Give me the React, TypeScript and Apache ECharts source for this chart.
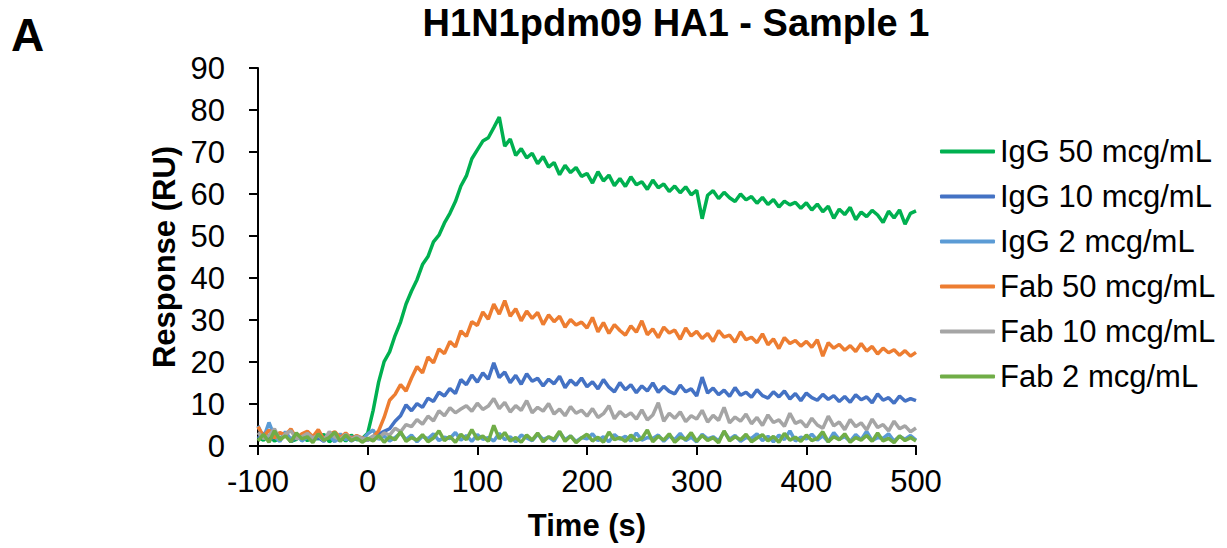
import React, { useEffect, useRef } from "react";
import * as echarts from "echarts";

const TIMES: number[] = [
  -100, -95, -90, -85, -80, -75, -70, -65, -60, -55,
  -50, -45, -40, -35, -30, -25, -20, -15, -10, -5,
  0, 5, 10, 15, 20, 25, 30, 35, 40, 45,
  50, 55, 60, 65, 70, 75, 80, 85, 90, 95,
  100, 105, 110, 115, 120, 125, 130, 135, 140, 145,
  150, 155, 160, 165, 170, 175, 180, 185, 190, 195,
  200, 205, 210, 215, 220, 225, 230, 235, 240, 245,
  250, 255, 260, 265, 270, 275, 280, 285, 290, 295,
  300, 305, 310, 315, 320, 325, 330, 335, 340, 345,
  350, 355, 360, 365, 370, 375, 380, 385, 390, 395,
  400, 405, 410, 415, 420, 425, 430, 435, 440, 445,
  450, 455, 460, 465, 470, 475, 480, 485, 490, 495,
  500,
];

const IGG_50: number[] = [
  2.1, 1.4, 2.6, 1.2, 1.8, 2.9, 1.1, 1.6, 2.4, 1.3,
  2.0, 1.7, 2.8, 1.0, 1.9, 2.3, 1.2, 2.6, 1.5, 1.8,
  3.0, 8.5, 15.2, 20.1, 22.4, 26.3, 29.5, 33.8, 36.9, 39.6,
  43.2, 45.1, 48.6, 50.2, 53.1, 55.4, 58.2, 61.9, 64.3, 68.4,
  70.5, 72.6, 73.4, 75.8, 78.3, 71.4, 73.1, 69.2, 70.8, 68.6,
  69.7, 67.2, 68.9, 66.4, 67.5, 64.6, 66.8, 65.1, 66.3, 64.2,
  64.9, 62.6, 65.3, 63.1, 64.5, 62.0, 63.7, 61.8, 64.1, 62.2,
  62.9, 61.1, 63.3, 61.5, 62.4, 60.6, 61.9, 60.3, 61.7, 59.8,
  60.9, 54.1, 59.7, 60.8, 58.9, 60.4, 59.1, 58.2, 60.0, 58.6,
  59.4, 57.8, 59.2, 57.5, 58.7, 56.9, 58.3, 57.4, 58.0, 56.6,
  57.9, 56.2, 57.6, 55.8, 57.1, 54.2, 56.4, 55.1, 56.8, 53.9,
  55.7, 54.6, 56.1, 55.0, 53.2, 55.9, 54.3, 56.2, 52.8, 55.4,
  56.0,
];

const IGG_10: number[] = [
  1.8, 3.1, 1.2, 2.4, 1.5, 2.9, 1.0, 2.2, 1.6, 3.3,
  1.4, 2.0, 1.1, 2.7, 1.7, 1.3, 2.5, 1.2, 1.9, 1.6,
  1.4, 2.1, 2.8, 3.5, 4.1, 5.9, 7.2, 9.8, 8.4, 10.1,
  9.2, 11.4, 10.6, 12.8, 11.9, 13.7, 12.5, 15.8, 14.6, 16.9,
  15.2, 17.4, 15.9, 19.8, 16.3, 17.6, 15.1, 16.8, 14.7, 17.2,
  15.4, 16.1, 14.3, 15.9, 14.8, 16.6, 13.9, 15.7, 14.5, 16.2,
  14.1, 15.3, 13.6, 15.8, 14.0, 12.9, 15.1, 13.4, 14.6, 12.7,
  14.3, 13.1, 15.0, 12.8, 14.2, 13.0, 12.4, 14.5, 12.9, 13.6,
  11.9, 16.4, 12.6, 13.8, 12.2, 13.3, 11.8, 13.9, 12.1, 12.8,
  11.6, 13.4, 12.0, 11.4, 12.9, 11.7, 13.1, 11.2, 12.5, 10.8,
  12.6, 11.5, 10.9, 12.3, 11.1, 12.0, 10.6, 11.8, 10.4, 12.2,
  11.0, 11.7, 10.3, 12.4, 10.9, 11.5, 10.2, 11.9, 10.7, 11.3,
  10.8,
];

const IGG_2: number[] = [
  4.8, 1.9, 5.6, 2.3, 1.1, 3.4, 1.6, 2.8, 1.2, 2.1,
  1.8, 3.6, 1.3, 2.5, 1.0, 2.9, 1.5, 2.2, 1.7, 1.4,
  2.9, 3.8, 1.6, 2.4, 1.2, 2.0, 3.1, 1.5, 2.6, 1.0,
  2.3, 1.7, 2.9, 1.3, 2.1, 1.8, 3.2, 1.4, 2.5, 1.1,
  2.7, 1.6, 2.0, 1.2, 3.0, 1.5, 2.2, 1.0, 2.6, 1.9,
  1.3, 2.8, 1.6, 2.1, 1.2, 3.3, 1.5, 2.4, 1.1, 2.0,
  1.7, 2.9, 1.3, 2.2, 1.0, 2.7, 1.6, 2.3, 1.2, 3.1,
  1.4, 2.0, 1.8, 2.6, 1.1, 2.4, 1.5, 3.0, 1.3, 2.1,
  1.0, 2.8, 1.7, 2.2, 1.2, 3.4, 1.6, 2.5, 1.1, 2.0,
  1.8, 2.9, 1.3, 2.3, 1.0, 2.6, 1.5, 3.6, 1.2, 2.1,
  1.7, 2.8, 1.4, 2.4, 1.0, 3.2, 1.6, 2.2, 1.1, 2.7,
  1.5, 3.5, 1.3, 2.0, 1.8, 2.9, 1.2, 2.3, 1.6, 2.5,
  1.4,
];

const FAB_50: number[] = [
  4.6, 2.3, 3.8, 1.9, 3.2, 2.6, 4.1, 1.8, 2.9, 3.5,
  2.2, 3.9, 1.6, 2.8, 3.4, 2.0, 3.1, 1.7, 2.5, 1.9,
  1.5, 2.2, 3.6, 6.8, 10.9, 12.3, 14.6, 13.1, 16.2, 18.9,
  17.4, 21.2, 19.8, 23.1, 22.0, 24.9, 23.6, 27.4, 26.1, 29.6,
  28.7, 31.9, 30.2, 33.8, 31.4, 34.6, 30.9, 32.7, 29.8, 32.1,
  30.4, 31.8, 28.9, 31.2, 29.6, 30.9, 28.3, 30.1, 28.8, 29.5,
  28.1, 30.6, 27.2, 29.4, 26.8, 28.9, 27.5, 26.4, 28.6, 27.1,
  29.8, 26.5, 27.9, 25.8, 28.3, 26.9, 27.6, 25.4, 28.1, 26.2,
  27.3, 25.6, 26.8, 24.9, 27.5, 25.9, 26.4, 24.7, 27.2, 25.3,
  25.9, 24.6, 26.7, 24.1, 25.5, 23.2, 25.8, 24.4, 25.1, 23.8,
  24.9, 23.5, 25.3, 21.4, 24.6, 23.3, 24.2, 22.8, 23.9, 22.5,
  24.4, 22.6, 23.7, 21.9, 23.3, 22.2, 22.9, 21.6, 22.7, 21.4,
  22.3,
];

const FAB_10: number[] = [
  3.2, 1.8, 2.5, 4.1, 1.4, 2.9, 3.6, 1.7, 2.2, 3.0,
  1.9, 2.6, 1.3, 3.4, 2.1, 1.6, 2.8, 1.5, 2.3, 1.8,
  1.6, 2.4, 1.9, 3.1, 2.6, 4.2, 3.4, 5.1, 4.6, 6.3,
  5.2, 7.1, 6.0, 8.4, 7.2, 9.1, 7.9, 8.8, 9.6, 8.3,
  10.2, 8.7, 9.5, 11.3, 8.9, 10.4, 8.1, 9.6, 8.5, 10.8,
  7.9, 9.2, 8.3, 10.1, 7.6, 8.8, 7.2, 9.4, 7.8, 8.5,
  7.1, 8.9, 6.8, 7.7, 9.6, 6.5, 8.2, 7.0, 7.9, 6.4,
  8.6, 6.2, 7.4, 10.3, 5.9, 7.8, 6.6, 8.1, 5.8, 7.2,
  6.4, 8.5, 5.7, 7.3, 6.1, 9.2, 5.5, 6.9, 5.9, 7.6,
  5.3, 6.8, 4.9, 7.4, 5.6, 6.2, 4.7, 7.8, 5.4, 6.0,
  4.5, 6.6, 5.0, 4.2, 7.1, 4.8, 5.7, 3.9, 6.3, 4.6,
  5.5, 3.8, 6.4, 4.4, 5.1, 3.6, 5.9, 4.1, 4.8, 3.4,
  4.3,
];

const FAB_2: number[] = [
  1.2, 2.8, 0.9, 3.6, 1.5, 2.4, 1.0, 3.1, 1.7, 2.2,
  0.8, 2.9, 1.4, 2.0, 3.3, 1.1, 2.6, 1.3, 1.9, 0.9,
  1.8, 1.2, 2.5, 0.9, 2.2, 1.5, 3.4, 1.1, 2.0, 1.4,
  2.7, 1.0, 1.9, 3.6, 1.3, 2.3, 0.9, 2.8, 1.5, 3.9,
  1.6, 2.4, 1.1, 4.9, 1.7, 3.2, 1.2, 2.0, 0.9, 2.6,
  1.4, 3.1, 1.0, 2.2, 1.6, 3.5, 1.1, 2.4, 0.8, 1.9,
  2.8, 1.2, 2.1, 0.9, 3.3, 1.5, 2.0, 1.1, 2.6, 1.3,
  1.8, 3.8, 1.0, 2.3, 1.4, 2.9, 0.9, 2.1, 1.6, 3.2,
  1.1, 2.5, 1.3, 2.0, 0.8, 3.6, 1.2, 2.2, 1.5, 2.8,
  1.0, 1.9, 2.7, 1.2, 2.3, 0.9, 3.0, 1.4, 2.1, 1.1,
  2.6, 1.3, 1.8, 3.4, 1.0, 2.2, 1.5, 2.9, 0.9, 2.0,
  1.4, 2.5, 1.1, 3.1, 1.2, 1.8, 0.8, 2.4, 1.3, 2.0,
  1.2,
];

const SERIES_NAMES = [
  "IgG 50 mcg/mL",
  "IgG 10 mcg/mL",
  "IgG 2 mcg/mL",
  "Fab 50 mcg/mL",
  "Fab 10 mcg/mL",
  "Fab 2 mcg/mL",
];
const SERIES_VALUES = [IGG_50, IGG_10, IGG_2, FAB_50, FAB_10, FAB_2];
const SERIES_COLORS = ["#00B050", "#4472C4", "#5B9BD5", "#ED7D31", "#A5A5A5", "#70AD47"];

const X_MIN = -100;
const X_MAX = 500;
const X_STEP = 100;
const Y_MIN = 0;
const Y_MAX = 90;
const Y_STEP = 10;

const TITLE = "H1N1pdm09 HA1 - Sample 1";
const PANEL_LABEL = "A";
const X_NAME = "Time (s)";
const Y_NAME = "Response (RU)";

const FONT = "'Liberation Sans', Arial, sans-serif";

export default function App() {
  const ref = useRef<HTMLDivElement>(null);

  useEffect(() => {
    if (!ref.current) return;
    const chart = echarts.init(ref.current, null, { renderer: "svg" });
    const series = SERIES_NAMES.map((name, i) => ({
      name,
      type: "line",
      showSymbol: false,
      symbol: "none",
      data: TIMES.map((t, j) => [t, SERIES_VALUES[i][j]]),
      lineStyle: { color: SERIES_COLORS[i], width: 3.5 },
      itemStyle: { color: SERIES_COLORS[i] },
      z: 2 + i,
    }));

    chart.setOption({
      animation: false,
      backgroundColor: "#ffffff",
      textStyle: { fontFamily: FONT },
      grid: { left: 258, right: 311, top: 68, bottom: 102, containLabel: false },
      xAxis: {
        type: "value",
        min: X_MIN,
        max: X_MAX,
        interval: X_STEP,
        name: X_NAME,
        nameLocation: "middle",
        nameGap: 64,
        nameTextStyle: { fontSize: 31, fontWeight: "bold", color: "#000", fontFamily: FONT },
        axisLine: { show: true, onZero: false, lineStyle: { color: "#000", width: 2 } },
        axisTick: { show: true, inside: false, length: 9, lineStyle: { color: "#000", width: 2 } },
        axisLabel: { fontSize: 31, color: "#000", margin: 20, fontFamily: FONT },
        splitLine: { show: false },
      },
      yAxis: {
        type: "value",
        min: Y_MIN,
        max: Y_MAX,
        interval: Y_STEP,
        name: Y_NAME,
        nameLocation: "middle",
        nameGap: 76,
        nameTextStyle: { fontSize: 31, fontWeight: "bold", color: "#000", fontFamily: FONT },
        axisLine: { show: true, onZero: false, lineStyle: { color: "#000", width: 2 } },
        axisTick: { show: true, inside: false, length: 9, lineStyle: { color: "#000", width: 2 } },
        axisLabel: { fontSize: 31, color: "#000", margin: 33, fontFamily: FONT },
        splitLine: { show: false },
      },
      legend: {
        orient: "vertical",
        left: 940,
        top: 136,
        padding: 0,
        itemWidth: 55,
        itemHeight: 4,
        itemGap: 14,
        icon: "roundRect",
        data: SERIES_NAMES,
        textStyle: { fontSize: 31, color: "#000", fontFamily: FONT, lineHeight: 31 },
      },
      graphic: [
        {
          type: "text",
          x: 676,
          y: 23,
          style: {
            text: TITLE,
            fontSize: 38,
            fontWeight: "bold",
            fill: "#000",
            fontFamily: FONT,
            textAlign: "center",
            textVerticalAlign: "middle",
          },
        },
        {
          type: "text",
          x: 11,
          y: 35,
          style: {
            text: PANEL_LABEL,
            fontSize: 46,
            fontWeight: "bold",
            fill: "#000",
            fontFamily: FONT,
            textAlign: "left",
            textVerticalAlign: "middle",
          },
        },
      ],
      series,
    });
    return () => chart.dispose();
  }, []);

  return (
    <div
      ref={ref}
      style={{ position: "fixed", left: 0, top: 0, width: 1227, height: 548, background: "#fff" }}
    />
  );
}
